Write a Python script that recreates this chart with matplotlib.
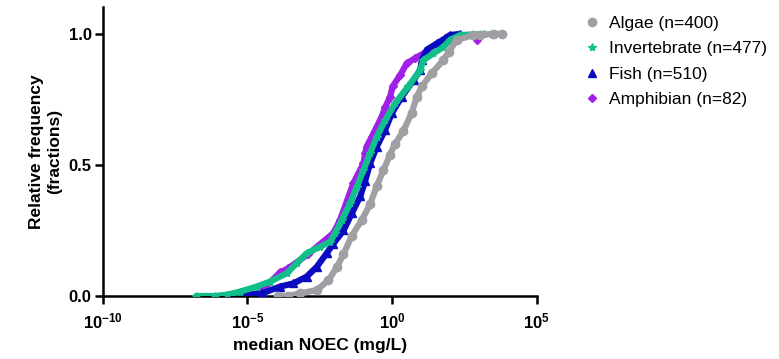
import matplotlib
matplotlib.use('Agg')
import matplotlib.pyplot as plt
from matplotlib.lines import Line2D
import numpy as np

plt.rcParams['font.family'] = ['Liberation Sans', 'DejaVu Sans']
plt.rcParams['mathtext.fontset'] = 'custom'
plt.rcParams['mathtext.rm'] = 'Liberation Sans'
plt.rcParams['mathtext.bf'] = 'Liberation Sans:bold'

# log10(median NOEC, mg/L) and cumulative fraction
algae_logx = [-3.93, -3.6, -3.18, -2.6, -2.2, -1.91, -1.68, -1.39, -1.05, -0.76, -0.53,
              -0.30, -0.07, 0.10, 0.39, 0.68, 0.85, 1.03, 1.37, 1.77, 1.95, 2.23, 2.81,
              3.05, 3.5, 3.79]
algae_y = [0.0, 0.0, 0.01, 0.023, 0.06, 0.11, 0.16, 0.23, 0.29, 0.35, 0.42,
           0.48, 0.54, 0.58, 0.63, 0.70, 0.76, 0.80, 0.85, 0.90, 0.93, 0.977, 0.996,
           0.998, 1.0, 1.0]

invert_logx = [-6.77, -6.12, -5.7, -5.25, -4.68, -4.22, -3.64, -3.3, -2.95, -2.49, -2.14,
               -1.97, -1.74, -1.45, -1.22, -0.99, -0.76, -0.53, -0.24, 0.10, 0.56, 0.97,
               1.08, 1.43, 1.77, 2.0, 2.35, 3.16]
invert_y = [0.0, 0.0, 0.005, 0.017, 0.036, 0.055, 0.087, 0.125, 0.163, 0.188, 0.207,
            0.24, 0.29, 0.354, 0.417, 0.48, 0.545, 0.608, 0.67, 0.735, 0.80, 0.862,
            0.90, 0.926, 0.95, 0.977, 0.996, 1.0]

fish_logx = [-5.66, -4.5, -3.87, -3.41, -2.95, -2.6, -2.26, -2.03, -1.68, -1.39, -1.1,
             -0.93, -0.76, -0.53, -0.24, -0.01, 0.33, 0.74, 0.97, 1.03, 1.2, 1.55, 1.83,
             2.0, 2.35]
fish_y = [0.0, 0.01, 0.036, 0.048, 0.074, 0.112, 0.163, 0.20, 0.25, 0.316, 0.38,
          0.44, 0.506, 0.57, 0.634, 0.697, 0.76, 0.824, 0.862, 0.90, 0.94, 0.964, 0.983,
          0.996, 1.0]

amph_logx = [-4.6, -3.87, -3.6, -2.9, -2.03, -1.8, -1.34, -0.99, -0.93, -0.88, -0.70,
             -0.53, -0.36, -0.24, -0.07, 0.02, 0.28, 0.51, 0.79, 1.2, 2.93, 3.56]
amph_y = [0.012, 0.09, 0.105, 0.16, 0.24, 0.29, 0.43, 0.506, 0.545, 0.57, 0.608,
          0.646, 0.684, 0.72, 0.76, 0.80, 0.843, 0.888, 0.907, 0.933, 0.977, 1.0]

labels = ['Algae (n=400)', 'Invertebrate (n=477)', 'Fish (n=510)', 'Amphibian (n=82)']
colors = ['#A0A0A4', '#12BF8A', '#0A0ABF', '#A020E8']
markers = ['o', '*', '^', 'D']
series = [(algae_logx, algae_y), (invert_logx, invert_y), (fish_logx, fish_y), (amph_logx, amph_y)]
zorders = [5, 4, 3, 2]
# the sparse amphibian tail is drawn as loose points
line_end = [None, None, None, -2]

fig = plt.figure(figsize=(7.79, 3.59), dpi=100)
ax = fig.add_axes([0.132, 0.1755, 0.557, 0.805])

for (lx, yy), c, m, z, e in zip(series, colors, markers, zorders, line_end):
    xv = 10.0 ** np.array(lx)
    yv = np.array(yy)
    ax.plot(xv[:e], yv[:e], color=c, lw=4.5, solid_capstyle='round', zorder=z)
    ax.plot(xv, yv, ls='none', marker=m, color=c, ms=6 if m != 'D' else 4.5, zorder=z)

ax.set_xscale('log')
ax.set_xlim(1e-10, 1e5)
ax.set_ylim(0, 1.103)
ax.set_xticks([1e-10, 1e-5, 1e0, 1e5])
ax.set_xticklabels([r'$\mathbf{10^{-10}}$', r'$\mathbf{10^{-5}}$', r'$\mathbf{10^{0}}$', r'$\mathbf{10^{5}}$'])
ax.minorticks_off()
ax.set_yticks([0, 0.5, 1.0])
ax.set_yticklabels(['0.0', '0.5', '1.0'], fontweight='bold')

for s in ['top', 'right']:
    ax.spines[s].set_visible(False)
for s in ['left', 'bottom']:
    ax.spines[s].set_linewidth(1.8)
ax.tick_params(direction='out', width=1.8, length=6, labelsize=12, pad=2)
ax.tick_params(axis='x', pad=5, labelsize=12)

ax.set_xlabel('median NOEC (mg/L)', fontsize=12.5, fontweight='bold', labelpad=5)
ax.set_ylabel('Relative frequency\n(fractions)', fontsize=12.5, fontweight='bold', labelpad=5)

handles = [Line2D([], [], ls='none', marker=m, color=c, ms=6 if m != 'D' else 4.5)
           for m, c in zip(markers, colors)]
fig.legend(handles, labels, loc='upper left', bbox_to_anchor=(0.729, 1.0), frameon=False,
           fontsize=12.5, labelspacing=0.6, handletextpad=0.45, handlelength=1.0)

fig.savefig('out.png', dpi=100)
